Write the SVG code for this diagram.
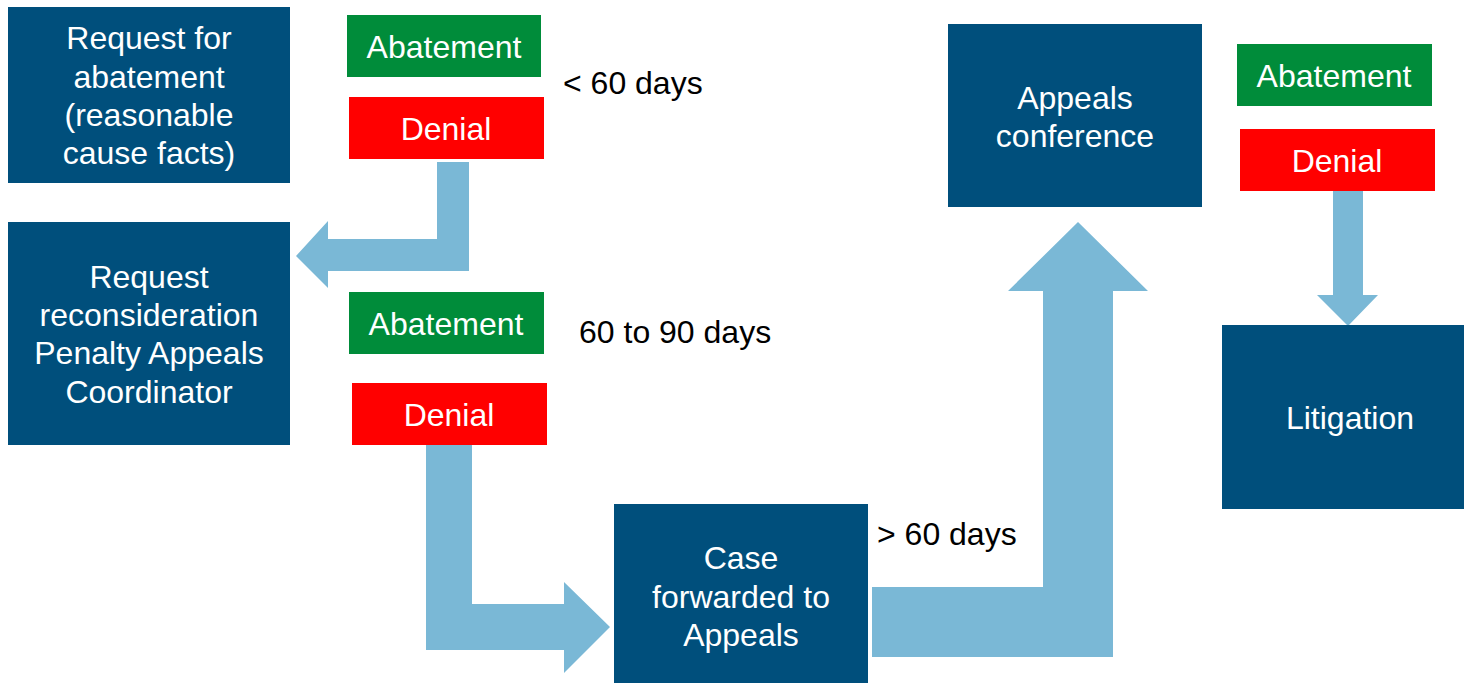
<svg xmlns="http://www.w3.org/2000/svg" width="1464" height="683" viewBox="0 0 1464 683">
<style>
.n{fill:#004F7C}
.g{fill:#008C3A}
.r{fill:#FF0000}
.a{fill:#7AB8D6}
text{font-family:"Liberation Sans",Arial,sans-serif;font-size:32px}
.w{fill:#FFFFFF;text-anchor:middle}
.k{fill:#000000}
</style>
<rect width="1464" height="683" fill="#FFFFFF"/>
<g id="connectors">
<polygon class="a" points="437,162 469,162 469,271 328,271 328,288 296,256 328,221 328,239 437,239"/>
<polygon class="a" points="426,444 472,444 472,604 564,604 564,582 610,627 564,673 564,650 426,650"/>
<polygon class="a" points="872,587 1043,587 1043,291 1008,291 1078,222 1148,291 1113,291 1113,657 872,657"/>
<polygon class="a" points="1333,191 1363,191 1363,295 1378,295 1348,326 1317,295 1333,295"/>
</g>
<g id="request-abatement">
<rect class="n" x="8" y="7" width="282" height="176"/>
<text class="w" x="149" y="49">Request for</text>
<text class="w" x="149" y="88">abatement</text>
<text class="w" x="149" y="126">(reasonable</text>
<text class="w" x="149" y="164">cause facts)</text>
</g>
<g id="abatement-1">
<rect class="g" x="347" y="15" width="194" height="62"/>
<text class="w" x="444" y="58">Abatement</text>
</g>
<g id="denial-1">
<rect class="r" x="349" y="97" width="195" height="62"/>
<text class="w" x="446" y="140">Denial</text>
</g>
<text class="k" x="563" y="94">&lt; 60 days</text>
<g id="request-reconsideration">
<rect class="n" x="8" y="222" width="282" height="223"/>
<text class="w" x="149" y="288">Request</text>
<text class="w" x="149" y="326">reconsideration</text>
<text class="w" x="149" y="364">Penalty Appeals</text>
<text class="w" x="149" y="403">Coordinator</text>
</g>
<g id="abatement-2">
<rect class="g" x="349" y="292" width="195" height="62"/>
<text class="w" x="446" y="335">Abatement</text>
</g>
<text class="k" x="579" y="343">60 to 90 days</text>
<g id="denial-2">
<rect class="r" x="352" y="383" width="195" height="62"/>
<text class="w" x="449" y="426">Denial</text>
</g>
<g id="case-forwarded">
<rect class="n" x="614" y="504" width="254" height="179"/>
<text class="w" x="741" y="569">Case</text>
<text class="w" x="741" y="608">forwarded to</text>
<text class="w" x="741" y="646">Appeals</text>
</g>
<text class="k" x="877" y="545">&gt; 60 days</text>
<g id="appeals-conference">
<rect class="n" x="948" y="24" width="254" height="183"/>
<text class="w" x="1075" y="109">Appeals</text>
<text class="w" x="1075" y="147">conference</text>
</g>
<g id="abatement-3">
<rect class="g" x="1237" y="44" width="195" height="62"/>
<text class="w" x="1334" y="87">Abatement</text>
</g>
<g id="denial-3">
<rect class="r" x="1240" y="129" width="195" height="62"/>
<text class="w" x="1337" y="172">Denial</text>
</g>
<g id="litigation">
<rect class="n" x="1222" y="325" width="242" height="184"/>
<text class="w" x="1350" y="429">Litigation</text>
</g>
</svg>
